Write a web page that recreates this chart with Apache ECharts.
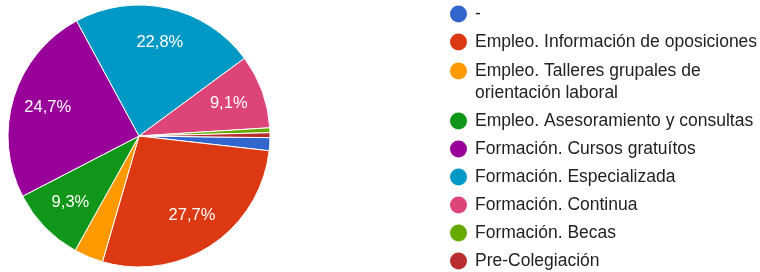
<!DOCTYPE html>
<html>
<head>
<meta charset="utf-8">
<script src="https://cdn.jsdelivr.net/npm/echarts@6/dist/echarts.min.js"></script>
<style>
html,body{margin:0;padding:0;background:#fff;}
#chart{width:760px;height:272px;}
</style>
</head>
<body>
<div id="chart"></div>
<script>
const categories = [
  '-',
  'Empleo. Información de oposiciones',
  'Empleo. Talleres grupales de\norientación laboral',
  'Empleo. Asesoramiento y consultas',
  'Formación. Cursos gratuítos',
  'Formación. Especializada',
  'Formación. Continua',
  'Formación. Becas',
  'Pre-Colegiación'
];
const values = [1.6, 27.7, 3.6, 9.3, 24.7, 22.8, 9.1, 0.6, 0.6];
const colors = ['#3366cc', '#dc3912', '#ff9900', '#109618', '#990099', '#0099c6', '#dd4477', '#66aa00', '#b82e2e'];
const labelMin = 5;

const FONT = 'Arial, "Liberation Sans", sans-serif';
const LEG_SIZE = 17.5;
const chart = echarts.init(document.getElementById('chart'));

const mainData = categories.map((n, i) => ({ name: n, value: values[i], itemStyle: { color: colors[i] } }));
const labelData = categories.map((n, i) => ({
  name: n, value: values[i],
  label: { show: values[i] >= labelMin }
}));

const legendText = {
  color: '#222', fontSize: LEG_SIZE, fontFamily: FONT, lineHeight: 22, padding: [0, 0, 0, 3],
  rich: { t: { color: '#222', fontSize: LEG_SIZE, fontFamily: FONT, lineHeight: 22 } }
};
const legendFormatter = name => name.indexOf('\n') >= 0
  ? name.split('\n').map(s => '{t|' + s + '}').join('\n')
  : name;
const legendBase = {
  orient: 'vertical', left: 450, padding: 0,
  itemWidth: 17, itemHeight: 17, itemGap: 6, icon: 'circle',
  itemStyle: { borderWidth: 0 },
  textStyle: legendText,
  formatter: legendFormatter
};

chart.setOption({
  animation: false,
  legend: [
    Object.assign({}, legendBase, { top: 3, data: categories.slice(0, 2) }),
    Object.assign({}, legendBase, {
      top: 38,
      data: categories.slice(2).map((n, i) => i === 0
        ? { name: n, textStyle: { padding: [22, 0, 0, 3] } }
        : { name: n })
    })
  ],
  series: [
    {
      type: 'pie',
      center: [139, 136],
      radius: 131,
      startAngle: -0.72,
      clockwise: true,
      itemStyle: { borderColor: '#fff', borderWidth: 1 },
      label: { show: false },
      labelLine: { show: false },
      emphasis: { disabled: true },
      data: mainData
    },
    {
      type: 'pie',
      center: [139, 136],
      radius: [54, 131],
      startAngle: -0.72,
      clockwise: true,
      silent: true,
      itemStyle: { color: 'rgba(0,0,0,0)', borderWidth: 0 },
      label: {
        position: 'inside',
        color: '#fff',
        fontSize: 16.5,
        fontFamily: FONT,
        formatter: p => p.value.toFixed(1).replace('.', ',') + '%'
      },
      labelLine: { show: false },
      emphasis: { disabled: true },
      data: labelData
    }
  ]
});
</script>
</body>
</html>
